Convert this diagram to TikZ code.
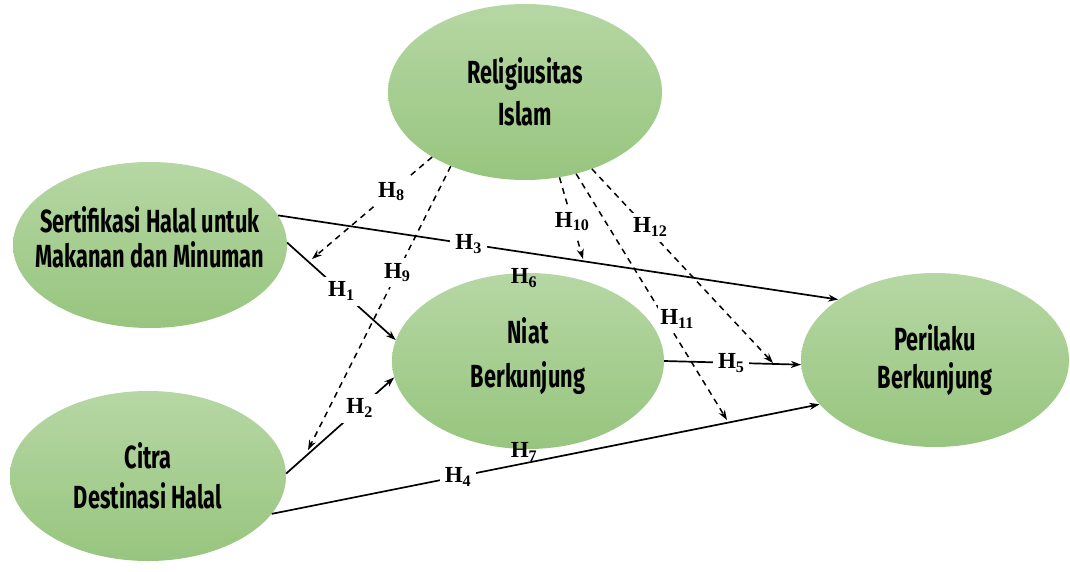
\documentclass[tikz,border=0pt]{standalone}
\usepackage{fontspec}
\usepackage{xcolor}
\usepackage{tikz}
\usetikzlibrary{arrows.meta,shapes.geometric}
\newfontfamily\varfont[FakeStretch=0.68]{Fira Sans}
\newfontfamily\hypfont{Liberation Serif}
\definecolor{ovaltop}{HTML}{B6D7A4}
\definecolor{ovalbot}{HTML}{97C57E}
\tikzset{
  var/.style={ellipse, top color=ovaltop, bottom color=ovalbot, draw=none, inner sep=0pt},
  vartext/.style={align=center, inner sep=0pt, font=\varfont\bfseries\fontsize{32}{#1}\selectfont},
  vartext/.default=40,
  hyp/.style={inner sep=1pt, font=\hypfont\bfseries\fontsize{23}{26}\selectfont},
  onlink/.style={hyp, fill=white, inner sep=5pt},
  link/.style={line width=1.7pt, -{Stealth[length=10pt,width=7pt]}},
  modlink/.style={link, line width=1.5pt, dash pattern=on 6pt off 5pt}
}

\begin{document}
\begin{tikzpicture}[x=1pt,y=-1pt]
\useasboundingbox (0,0) rectangle (1070,572);

\node[var, minimum width=274pt, minimum height=176pt,
  label={[vartext=42]center:{Religiusitas\\Islam}}] (rel) at (525,92) {};
\node[var, minimum width=274pt, minimum height=166pt,
  label={[vartext=35, yshift=8pt]center:{Sertifikasi Halal untuk\\Makanan dan Minuman}}] (sert) at (150,245) {};
\node[var, minimum width=276pt, minimum height=170pt,
  label={[vartext=40]center:{Citra\\Destinasi Halal}}] (citra) at (148,476) {};
\node[var, minimum width=272pt, minimum height=176pt,
  label={[vartext=44, yshift=5pt]center:{Niat\\Berkunjung}}] (niat) at (528,361) {};
\node[var, minimum width=268pt, minimum height=174pt,
  label={[vartext=38]center:{Perilaku\\Berkunjung}}] (peri) at (935,360) {};

\coordinate (h8tip) at (312,259);
\coordinate (h9tip) at (308,450);
\coordinate (h10tip) at (583,259);
\coordinate (h11tip) at (727,420);
\coordinate (h12tip) at (773,363);

\draw[link] (sert.13) -- node[onlink, pos=0.34] (h3) {H\textsubscript{3}} (peri.148);
\draw[link] (sert.1) -- node[onlink, pos=0.5] (h1) {H\textsubscript{1}} (niat.171);
\draw[link] (citra.1) -- node[onlink, pos=0.68] (h2) {H\textsubscript{2}} (niat.187);
\draw[link] (citra.-17) -- node[onlink, pos=0.34] (h4) {H\textsubscript{4}} (peri.201);
\draw[link] (niat.east) -- node[onlink, pos=0.49] (h5) {H\textsubscript{5}} (peri.182);

\draw[modlink] (rel.215) -- node[onlink, pos=0.34] (h8) {H\textsubscript{8}} (h8tip);
\draw[modlink] (rel.225) -- node[onlink, pos=0.375] (h9) {H\textsubscript{9}} (h9tip);
\draw[modlink] (rel.292) -- node[onlink, pos=0.54] (h10) {H\textsubscript{10}} (h10tip);
\draw[modlink] (rel.302) -- node[onlink, pos=0.59, xshift=12pt, inner xsep=2pt] (h11) {H\textsubscript{11}} (h11tip);
\draw[modlink] (rel.311) -- node[onlink, pos=0.30, xshift=4pt] (h12) {H\textsubscript{12}} (h12tip);

\node[hyp] (h6) at (524,278) {H\textsubscript{6}};
\node[hyp] (h7) at (524,452) {H\textsubscript{7}};
\end{tikzpicture}
\end{document}
